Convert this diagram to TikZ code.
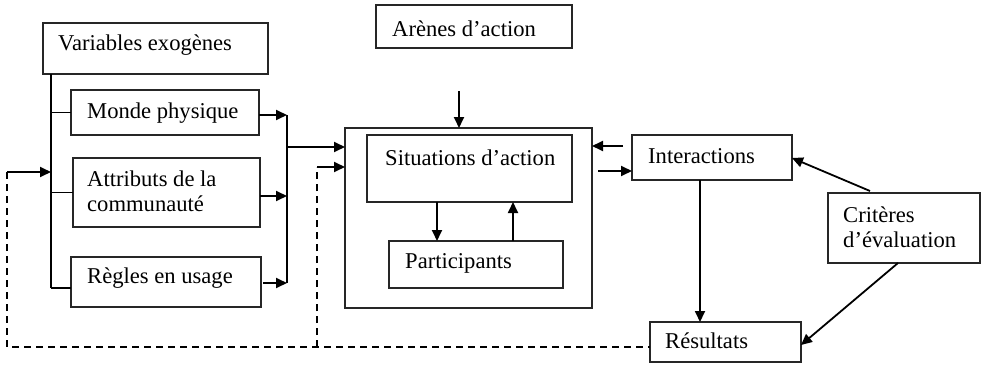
\documentclass[tikz,border=0pt]{standalone}
\usepackage{fontspec}
\setmainfont{Liberation Serif}
\usetikzlibrary{arrows.meta,calc}
\begin{document}
\begin{tikzpicture}[x=1pt,y=-1pt,
  box/.style={draw=black!85,line width=1.2pt,inner sep=0pt,outer sep=0pt,anchor=north west},
  lbl/.style={inner sep=0pt,anchor=base west,font=\fontsize{22.6}{24.5}\selectfont,align=left},
  arr/.style={line width=1.8pt,-{Triangle[length=11pt,width=10pt]}},
  ln/.style={line width=1.3pt},
  dsh/.style={line width=1.5pt,dash pattern=on 7pt off 5pt}]
\useasboundingbox (0,0) rectangle (982,364);
% boxes
\node[box,minimum width=225,minimum height=51] (var) at (43,23) {};
\node[box,minimum width=188,minimum height=45] (monde) at (71,90) {};
\node[box,minimum width=187,minimum height=69] (attr) at (73,158) {};
\node[box,minimum width=190,minimum height=50] (regl) at (71,257) {};
\node[box,minimum width=196,minimum height=43] (arene) at (376,5) {};
\node[box,minimum width=247,minimum height=180] (outer) at (345,128) {};
\node[box,minimum width=205,minimum height=67] (sit) at (367,135) {};
\node[box,minimum width=174,minimum height=47] (part) at (389,241) {};
\node[box,minimum width=160,minimum height=45] (inter) at (632,135) {};
\node[box,minimum width=152,minimum height=70] (crit) at (828,193) {};
\node[box,minimum width=151,minimum height=40] (res) at (650,322) {};
% texts
\node[lbl] (tvar) at (58,50) {Variables exogènes};
\node[lbl] (tmonde) at (87,118) {Monde physique};
\node[lbl] (tattr) at (87,211) {Attributs de la\\communauté};
\node[lbl] (tregl) at (87,283) {Règles en usage};
\node[lbl] (tarene) at (392,36) {Arènes d’action};
\node[lbl] (tsit) at (385,165) {Situations d’action};
\node[lbl] (tpart) at (405,268) {Participants};
\node[lbl] (tinter) at (648,163) {Interactions};
\node[lbl] (tcrit) at (843,247) {Critères\\d’évaluation};
\node[lbl] (tres) at (665,348) {Résultats};
% coordinates
\coordinate (trunkT) at (51,74);
\coordinate (trunkB) at (51,288);
\coordinate (fbL) at (7,172);
\coordinate (fbLB) at (7,347);
\coordinate (fbM) at (317,347);
\coordinate (fbMT) at (317,167);
\coordinate (colT) at (287,115);
\coordinate (colB) at (287,283);
\coordinate (colM) at (287,147);
\coordinate (topIn) at (459,91);
\coordinate (rIn) at (623,146);
\coordinate (rOut) at (598,171);
% left trunk
\draw[ln] (trunkT) -- (trunkB);
\draw[ln] (trunkB -| trunkT) -- (regl.west |- trunkB);
\draw[ln] (monde.west -| trunkT) -- (monde.west);
\draw[ln] (attr.west -| trunkT) -- (attr.west);
% feedback
\draw[arr] (fbL) -- (fbL -| trunkT);
\draw[dsh] (fbL) -- (fbLB) -- (res.west |- fbLB);
\draw[dsh] (fbM) -- (fbMT);
\draw[arr] (fbMT) -- (outer.west |- fbMT);
% collector
\draw[arr] (monde.east |- colT) -- (colT);
\draw[arr] (attr.east |- 0,196) -- (287,196);
\draw[arr] (regl.east) ++(2,1) -- (colB);
\draw[ln] (colT) -- (colB);
\draw[arr] (colM) -- (outer.west |- colM);
% top
\draw[arr] (topIn) -- (topIn |- outer.north);
% inner
\draw[arr] (437,202) -- (437,241);
\draw[arr] (513,241) -- (513,202);
% right
\draw[arr] (rIn) -- (outer.east |- rIn);
\draw[arr] (rOut) -- (inter.west |- rOut);
\draw[arr] (700,180) -- (700,322);
\draw[arr] (870,191) -- (inter.east |- 0,158);
\draw[arr] (898,263) -- (res.east |- 0,345);
\end{tikzpicture}
\end{document}
